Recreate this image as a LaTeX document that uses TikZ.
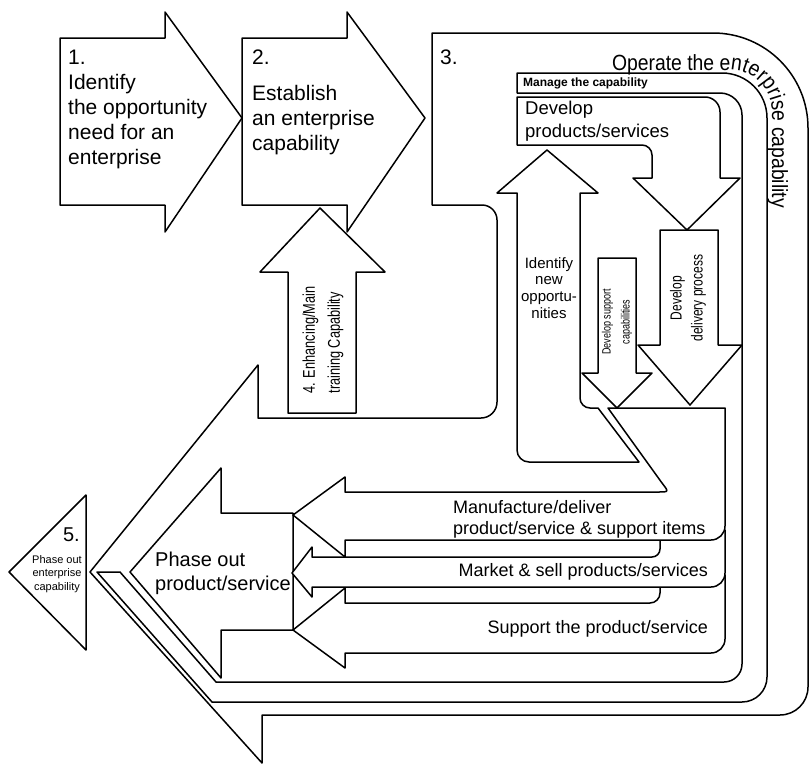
\documentclass[tikz,border=0pt]{standalone}
\usepackage{fontspec}
\setmainfont{Liberation Sans}
\newfontfamily\condfont[FakeStretch=0.75]{Liberation Sans}
\newfontfamily\opfont[FakeStretch=0.88]{Liberation Sans}
\newcommand\opsize{\fontsize{22}{22}\opfont}
\usetikzlibrary{decorations.text}
\tikzset{
  blk/.style={draw=black, fill=white, line width=1.5pt, line join=round},
  lbl/.style={inner sep=0pt, anchor=north west, align=left},
  vlbl/.style={inner sep=0pt, rotate=90, align=center, font=\condfont},
}
\begin{document}
\begin{tikzpicture}[x=1pt, y=-1pt]
  \useasboundingbox (0,0) rectangle (811,763);
  % 3. operate the enterprise capability
  \draw[blk] (432,33) -- (713,33) arc[start angle=-90, end angle=0, radius=95] -- (808,687) arc[start angle=0, end angle=90, radius=28]
    -- (262,715) -- (262,763) -- (90,572) -- (258,365) -- (258,418) -- (481,418) arc[start angle=90, end angle=0, radius=16]
    -- (497,220) arc[start angle=0, end angle=-90, radius=15] -- (432,205) -- cycle;
  % manage band
  \draw[blk] (517,73) -- (722,73) arc[start angle=-90, end angle=0, radius=45] -- (767,677) arc[start angle=0, end angle=90, radius=25]
    -- (212,702) -- (97,572) -- (120,572) -- (216,682) -- (724,682) arc[start angle=90, end angle=0, radius=18]
    -- (742,115) arc[start angle=0, end angle=-90, radius=22] -- (517,93) -- cycle;
  % develop products/services
  \draw[blk] (517,97) -- (705,97) arc[start angle=-90, end angle=0, radius=15] -- (720,178) -- (740,178) -- (687,230) -- (633,178)
    -- (652,178) -- (652,155) arc[start angle=0, end angle=-90, radius=10] -- (517,145) -- cycle;
  \draw[blk] (660,230) -- (718,230) -- (718,345) -- (742,345) -- (690,405) -- (638,345) -- (660,345) -- cycle;
  \draw[blk] (598,258) -- (636,258) -- (636,373) -- (652,373) -- (617,408) -- (582,373) -- (598,373) -- cycle;
  % identify new opportunities
  \draw[blk] (547,150) -- (598,193) -- (580,193) -- (580,398) arc[start angle=180, end angle=90, radius=10] -- (598,408) -- (639,462)
    -- (529,462) arc[start angle=90, end angle=180, radius=12] -- (517,193) -- (497,193) -- cycle;
  % phase out product/service
  \draw[blk] (130,572) -- (221,468) -- (221,513) -- (293,513) -- (293,630) -- (221,630) -- (221,678) -- cycle;
  % support, market, manufacture
  \draw[blk] (293,630) -- (345,588) -- (345,603) -- (650,603) arc[start angle=90, end angle=0, radius=10] -- (660,575) -- (725,575)
    -- (725,639) arc[start angle=0, end angle=90, radius=14] -- (345,653) -- (345,668) -- cycle;
  \draw[blk] (292,573) -- (312,547) -- (312,557) -- (652,557) arc[start angle=90, end angle=0, radius=8] -- (660,530) -- (725,530)
    -- (725,573) arc[start angle=0, end angle=90, radius=14] -- (312,587) -- (312,597) -- cycle;
  \draw[blk] (293,515) -- (345,477) -- (345,492) -- (658,492) .. controls (669,492) .. (662,483) -- (608,408) -- (725,408)
    -- (725,526) arc[start angle=0, end angle=90, radius=14] -- (345,540) -- (345,557) -- cycle;
  % 1., 2., 4., 5.
  \draw[blk] (60,38) -- (165,38) -- (165,12) -- (242,118) -- (165,232) -- (165,205) -- (60,205) -- cycle;
  \draw[blk] (242,38) -- (347,38) -- (347,12) -- (425,118) -- (347,232) -- (347,205) -- (242,205) -- cycle;
  \draw[blk] (320,208) -- (385,272) -- (356,272) -- (356,413) -- (288,413) -- (288,272) -- (260,272) -- cycle;
  \draw[blk] (9,572) -- (86,495) -- (86,650) -- cycle;

  \node[lbl, font=\fontsize{21}{25}\selectfont] (one) at (68,50) {1.\\Identify\\the opportunity\\need for an\\enterprise};
  \node[lbl, font=\fontsize{21}{25}\selectfont] (two) at (252,50) {2.};
  \node[lbl, font=\fontsize{21}{25}\selectfont] (est) at (252,85) {Establish\\an enterprise\\capability};
  \node[lbl, font=\fontsize{21}{25}\selectfont] (three) at (440,50) {3.};
  \path[decorate, decoration={text along path, text={|\opsize|Operate the enterprise capability}}]
    (612,70) -- (730,70) arc[start angle=-90, end angle=0, radius=42] -- (772,300);
  \node[lbl, anchor=west, font=\bfseries\fontsize{12}{12}\selectfont] (mng) at (523,83) {Manage the capability};
  \node[lbl, font=\fontsize{18.5}{23}\selectfont] (devps) at (525,101) {Develop\\products/services};
  \node[lbl, anchor=north, align=center, font=\fontsize{15}{16.7}\selectfont] (idn) at (549,257) {Identify\\new\\opportu-\\nities};
  \node[vlbl, font=\condfont\fontsize{12}{19}\selectfont] (dsup) at (617,322) {Develop support\\capabilities};
  \node[vlbl, font=\condfont\fontsize{16}{21}\selectfont] (ddel) at (688,298) {Develop\\delivery process};
  \node[vlbl, align=left, font=\condfont\fontsize{17}{25}\selectfont] (four) at (323,340) {4. Enhancing/Main\\training Capability};
  \node[lbl, font=\fontsize{18}{21}\selectfont] (mfg) at (453,500) {Manufacture/deliver\\product/service \& support items};
  \node[lbl, anchor=north east, font=\fontsize{18}{21}\selectfont] (mkt) at (708,563) {Market \& sell products/services};
  \node[lbl, anchor=north east, font=\fontsize{18}{21}\selectfont] (sup) at (708,620) {Support the product/service};
  \node[lbl, font=\fontsize{20}{23.5}\selectfont] (pops) at (155,552) {Phase out\\product/service};
  \node[lbl, anchor=north east, font=\fontsize{20}{20}\selectfont] (five) at (80,528) {5.};
  \node[lbl, anchor=north, align=center, font=\fontsize{11}{13.5}\selectfont] (pec) at (57,555) {Phase out\\enterprise\\capability};
\end{tikzpicture}
\end{document}
